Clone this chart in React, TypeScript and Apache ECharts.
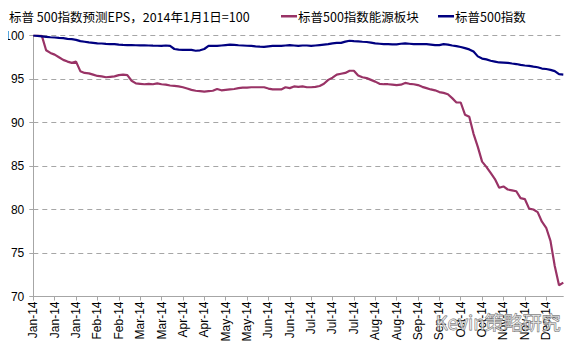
import React, { useEffect, useRef } from "react";
import * as echarts from "echarts";

const title = "标普 500指数预测EPS，2014年1月1日=100";
const seriesNames = ["标普500指数能源板块", "标普500指数"];

// x-axis tick labels, one for every 5th data point (10 trading days)
const tickLabels = [
  "Jan-14", "Jan-14", "Jan-14", "Feb-14", "Feb-14", "Mar-14", "Mar-14", "Apr-14", "Apr-14",
  "May-14", "May-14", "Jun-14", "Jun-14", "Jul-14", "Jul-14", "Jul-14", "Aug-14", "Aug-14",
  "Sep-14", "Sep-14", "Oct-14", "Oct-14", "Nov-14", "Nov-14", "Dec-14",
];

// energy sector forecast EPS (every 2 trading days)
const energyValues = [
  100, 100, 99.95, 98.3, 98.0, 97.8, 97.5, 97.2, 97.0, 96.85,
  97.0, 95.9, 95.7, 95.65, 95.5, 95.35, 95.3, 95.2, 95.25, 95.3,
  95.45, 95.5, 95.45, 94.8, 94.5, 94.45, 94.4, 94.45, 94.4, 94.5,
  94.4, 94.35, 94.25, 94.2, 94.15, 94.05, 93.9, 93.75, 93.65, 93.6,
  93.55, 93.6, 93.65, 93.85, 93.7, 93.75, 93.8, 93.85, 93.95, 94.0,
  94.0, 94.05, 94.05, 94.05, 94.05, 93.9, 93.8, 93.8, 93.8, 94.05,
  93.95, 94.15, 94.1, 94.15, 94.05, 94.05, 94.1, 94.2, 94.45, 94.9,
  95.15, 95.5, 95.6, 95.7, 95.95, 95.95, 95.4, 95.2, 95.1, 94.9,
  94.7, 94.45, 94.4, 94.4, 94.35, 94.3, 94.35, 94.55, 94.45, 94.4,
  94.3, 94.1, 93.95, 93.8, 93.7, 93.5, 93.4, 93.25, 92.8, 92.3,
  92.3, 90.9, 90.65, 88.7, 87.2, 85.5, 84.9, 84.2, 83.5, 82.5,
  82.65, 82.3, 82.2, 82.1, 81.3, 81.2, 80.1, 80.0, 79.7, 78.6,
  77.9, 76.4, 73.5, 71.3, 71.6,
];

// S&P 500 forecast EPS
const spxValues = [
  100, 99.95, 99.9, 99.85, 99.8, 99.77, 99.73, 99.7, 99.62, 99.58,
  99.5, 99.35, 99.28, 99.2, 99.15, 99.1, 99.08, 99.03, 99.0, 99.0,
  98.95, 98.92, 98.9, 98.9, 98.88, 98.87, 98.86, 98.85, 98.83, 98.82,
  98.8, 98.85, 98.8, 98.45, 98.38, 98.35, 98.35, 98.35, 98.25, 98.3,
  98.45, 98.8, 98.8, 98.8, 98.85, 98.9, 98.95, 98.92, 98.88, 98.85,
  98.82, 98.8, 98.75, 98.72, 98.7, 98.75, 98.8, 98.8, 98.8, 98.85,
  98.9, 98.85, 98.8, 98.85, 98.85, 98.8, 98.85, 98.9, 98.95, 99.0,
  99.1, 99.15, 99.15, 99.3, 99.4, 99.35, 99.32, 99.28, 99.25, 99.18,
  99.1, 99.05, 99.0, 99.0, 98.98, 98.98, 99.05, 99.1, 99.05, 99.0,
  99.0, 99.0, 99.0, 98.95, 98.9, 98.9, 99.0, 98.95, 98.85, 98.78,
  98.68, 98.55, 98.4, 98.15, 97.6, 97.35, 97.25, 97.1, 97.0, 96.9,
  96.88, 96.85, 96.78, 96.72, 96.62, 96.55, 96.5, 96.42, 96.35, 96.2,
  96.15, 96.05, 95.9, 95.55, 95.5,
];

const watermark = "Kevin策略研究";
const colors = ["#993366", "#000080"];
const FONT = "Liberation Sans";
const CJK = "Noto Sans CJK SC";

export default function App() {
  const ref = useRef<HTMLDivElement>(null);
  useEffect(() => {
    if (!ref.current) return;
    const chart = echarts.init(ref.current, undefined, { renderer: "svg" });
    const categories = energyValues.map((_, i) => String(i));
    chart.setOption({
      animation: false,
      backgroundColor: "#ffffff",
      title: {
        text: title,
        left: 4,
        top: 5,
        textStyle: { fontFamily: CJK, fontSize: 12.5, fontWeight: "normal", color: "#000" },
      },
      legend: [
        {
          data: [seriesNames[0]],
          left: 276,
          top: 5,
          icon: "rect",
          itemWidth: 16,
          itemHeight: 2.5,
          itemGap: 0,
          textStyle: { fontFamily: CJK, fontSize: 12.5, color: "#000", padding: [0, 0, 0, -4] },
        },
        {
          data: [seriesNames[1]],
          left: 433,
          top: 5,
          icon: "rect",
          itemWidth: 16,
          itemHeight: 2.5,
          textStyle: { fontFamily: CJK, fontSize: 12.5, color: "#000", padding: [0, 0, 0, -4] },
        },
      ],
      grid: {
        left: 33.3,
        right: 15.7,
        top: 35.5,
        bottom: 56.5,
        containLabel: false,
        outerBoundsMode: "none",
      },
      xAxis: {
        type: "category",
        data: categories,
        boundaryGap: false,
        axisLine: { lineStyle: { color: "#a6a6a6", width: 1 } },
        axisTick: { show: true, interval: 4, length: 4, lineStyle: { color: "#a6a6a6" } },
        axisLabel: {
          interval: 4,
          rotate: 90,
          margin: 5,
          fontFamily: FONT,
          fontSize: 12,
          color: "#000",
          formatter: (_v: string, idx: number) => tickLabels[Math.floor(idx / 5)] ?? "",
        },
        splitLine: { show: false },
      },
      yAxis: {
        type: "value",
        min: 70,
        max: 100,
        interval: 5,
        axisLine: { show: true, lineStyle: { color: "#a6a6a6", width: 1 } },
        axisTick: { show: true, length: 4, lineStyle: { color: "#a6a6a6" } },
        axisLabel: {
          margin: 9,
          fontFamily: FONT,
          fontSize: 12,
          color: "#000",
        },
        splitLine: { show: true, lineStyle: { color: "#a6a6a6", type: [5, 4], width: 1 } },
      },
      series: [
        {
          name: seriesNames[0],
          type: "line",
          data: energyValues,
          showSymbol: false,
          symbol: "none",
          lineStyle: { color: colors[0], width: 2.2 },
          itemStyle: { color: colors[0] },
          z: 2,
        },
        {
          name: seriesNames[1],
          type: "line",
          data: spxValues,
          showSymbol: false,
          symbol: "none",
          lineStyle: { color: colors[1], width: 2.2 },
          itemStyle: { color: colors[1] },
          z: 3,
        },
      ],
      graphic: [
        {
          type: "text",
          left: 435,
          top: 312,
          z: 100,
          style: {
            text: watermark,
            fontFamily: CJK,
            fontSize: 19,
            fill: "rgba(255,255,255,0.55)",
            stroke: "#6a6a6a",
            lineWidth: 0.8,
          },
        },
      ],
    });
    return () => chart.dispose();
  }, []);
  return (
    <div style={{ margin: -8 }}>
      <div ref={ref} style={{ width: 579, height: 353 }} />
    </div>
  );
}
